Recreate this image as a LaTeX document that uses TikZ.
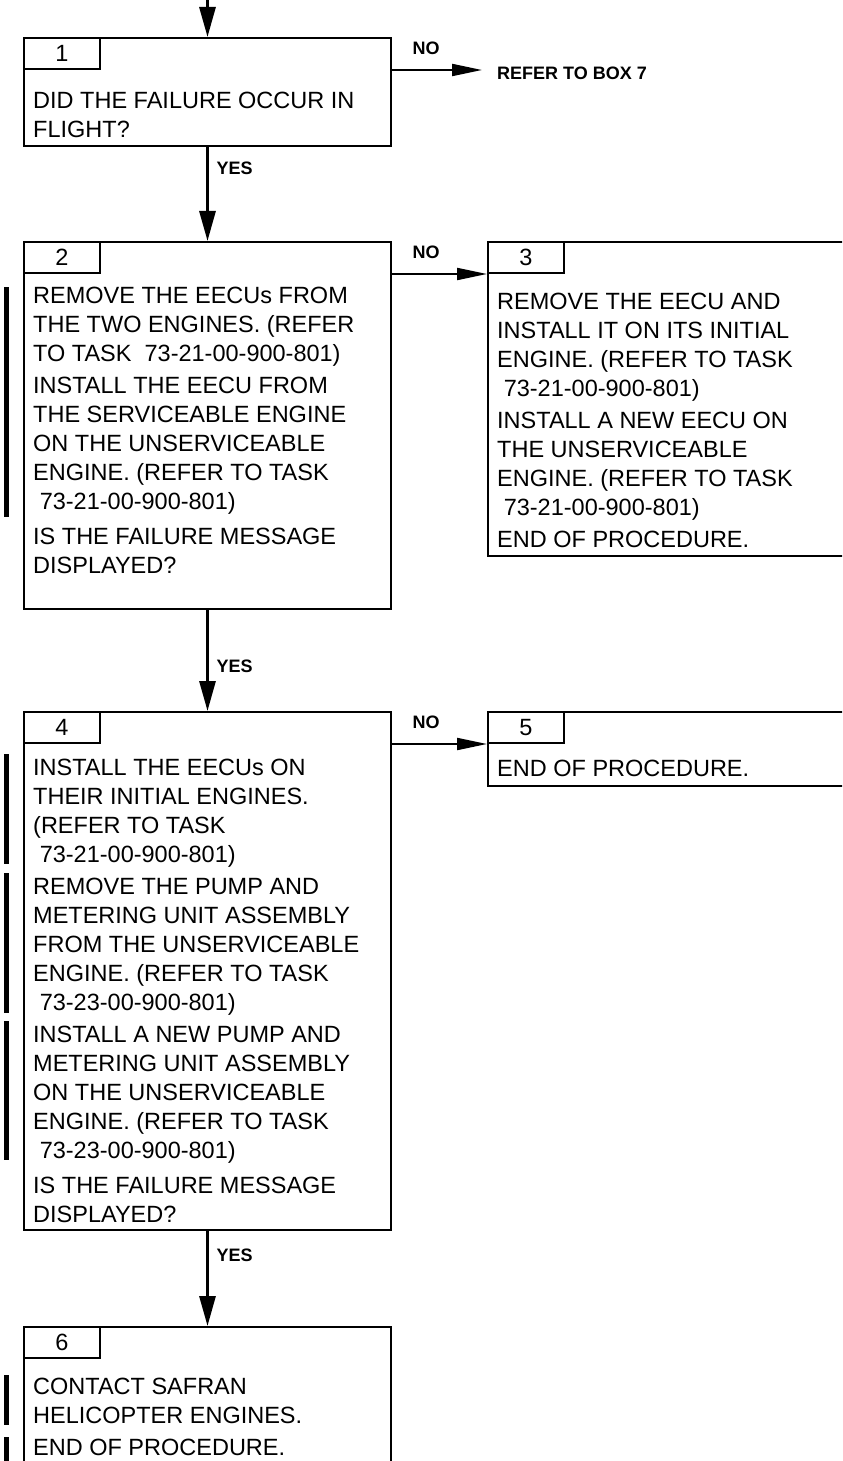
\documentclass[tikz,border=0pt]{standalone}
\usepackage{fontspec}
\setmainfont{Liberation Sans}
\usetikzlibrary{arrows.meta,positioning}

\begin{document}
\begin{tikzpicture}[x=1bp,y=-1bp,
  box/.style={draw, line width=2bp, anchor=north west, inner sep=0pt, minimum width=367bp},
  widebox/.style={draw, line width=2bp, anchor=north west, inner sep=0pt, minimum width=400bp},
  numbox/.style={draw, line width=2bp, anchor=north west, inner sep=0pt, minimum width=76bp, minimum height=31bp, font=\fontsize{23.5bp}{29bp}\selectfont},
  txt/.style={anchor=north west, align=left, inner sep=0pt, font=\fontsize{23.5bp}{29bp}\selectfont},
  lbl/.style={inner sep=0pt, font=\bfseries\fontsize{18bp}{20bp}\selectfont},
  varrow/.style={line width=3bp, -{Triangle[length=30bp,width=16bp]}},
  harrow/.style={line width=2bp, -{Triangle[length=30bp,width=12bp]}},
  chgbar/.style={line width=5bp}]
\useasboundingbox (0,0) rectangle (842,1461);
\clip (0,0) rectangle (842,1461);

\node[box, minimum height=108bp] (b1) at (23,37) {};
\node[numbox] (n1) at (b1.north west) {1};
\node[txt] (t1) at ([shift={(10bp,-51bp)}]b1.north west) {\strut DID THE FAILURE OCCUR IN\\FLIGHT?};

\node[box, minimum height=367bp] (b2) at (23,241) {};
\node[numbox] (n2) at (b2.north west) {2};
\node[txt] (t2) at ([shift={(10bp,-42bp)}]b2.north west) {\strut REMOVE THE EECUs FROM\\
  THE TWO ENGINES. (REFER\\
  TO TASK~ 73-21-00-900-801)\\[3bp]
  INSTALL THE EECU FROM\\
  THE SERVICEABLE ENGINE\\
  ON THE UNSERVICEABLE\\
  ENGINE. (REFER TO TASK\\
  \hspace*{.28em}73-21-00-900-801)\\[6bp]
  IS THE FAILURE MESSAGE\\
  DISPLAYED?};

\node[widebox, minimum height=314bp] (b3) at (487,241) {};
\node[numbox] (n3) at (b3.north west) {3};
\node[txt] (t3) at ([shift={(10bp,-48bp)}]b3.north west) {\strut REMOVE THE EECU AND\\
  INSTALL IT ON ITS INITIAL\\
  ENGINE. (REFER TO TASK\\
  \hspace*{.28em}73-21-00-900-801)\\[3bp]
  INSTALL A NEW EECU ON\\
  THE UNSERVICEABLE\\
  ENGINE. (REFER TO TASK\\
  \hspace*{.28em}73-21-00-900-801)\\[3bp]
  END OF PROCEDURE.};

\node[box, minimum height=518bp] (b4) at (23,711) {};
\node[numbox] (n4) at (b4.north west) {4};
\node[txt] (t4) at ([shift={(10bp,-44bp)}]b4.north west) {\strut INSTALL THE EECUs ON\\
  THEIR INITIAL ENGINES.\\
  (REFER TO TASK\\
  \hspace*{.28em}73-21-00-900-801)\\[3bp]
  REMOVE THE PUMP AND\\
  METERING UNIT ASSEMBLY\\
  FROM THE UNSERVICEABLE\\
  ENGINE. (REFER TO TASK\\
  \hspace*{.28em}73-23-00-900-801)\\[3bp]
  INSTALL A NEW PUMP AND\\
  METERING UNIT ASSEMBLY\\
  ON THE UNSERVICEABLE\\
  ENGINE. (REFER TO TASK\\
  \hspace*{.28em}73-23-00-900-801)\\[6bp]
  IS THE FAILURE MESSAGE\\
  DISPLAYED?};

\node[widebox, minimum height=74bp] (b5) at (487,711) {};
\node[numbox] (n5) at (b5.north west) {5};
\node[txt] (t5) at ([shift={(10bp,-45bp)}]b5.north west) {\strut END OF PROCEDURE.};

\node[box, minimum height=200bp] (b6) at (23,1326) {};
\node[numbox] (n6) at (b6.north west) {6};
\node[txt] (t6) at ([shift={(10bp,-48bp)}]b6.north west) {\strut CONTACT SAFRAN\\
  HELICOPTER ENGINES.\\[3bp]
  END OF PROCEDURE.};

\coordinate (start) at (b1.north |- 0,-5);
\draw[varrow] (start) -- (b1.north);
\draw[varrow] (b1.south) -- (b2.north);
\draw[varrow] (b2.south) -- (b4.north);
\draw[varrow] (b4.south) -- (b6.north);
\node[lbl, anchor=west] (yes1) at ([shift={(9bp,-21bp)}]b1.south) {YES};
\node[lbl, anchor=west] (yes2) at ([shift={(9bp,-56bp)}]b2.south) {YES};
\node[lbl, anchor=west] (yes4) at ([shift={(9bp,-24bp)}]b4.south) {YES};

\coordinate (e1) at (b1.east |- n1.south);
\coordinate (e1t) at ([xshift=90bp]e1);
\coordinate (e2) at (b2.east |- n2.south);
\coordinate (e4) at (b4.east |- n4.south);
\node[lbl, right=15bp of e1t, yshift=-3bp] (r7) {REFER TO BOX 7};
\draw[harrow] (e1) -- (e1t);
\draw[harrow] (e2) -- (n3.south west);
\draw[harrow] (e4) -- (n5.south west);
\node[lbl] (no1) at ([shift={(34bp,22bp)}]e1) {NO};
\node[lbl] (no2) at ([shift={(34bp,22bp)}]e2) {NO};
\node[lbl] (no4) at ([shift={(34bp,22bp)}]e4) {NO};

\foreach \a/\b in {287/517,754/864,873/1013,1021/1160,1375/1425,1437/1470} {
  \draw[chgbar] (6.5,\a) -- (6.5,\b);
}
\end{tikzpicture}
\end{document}
